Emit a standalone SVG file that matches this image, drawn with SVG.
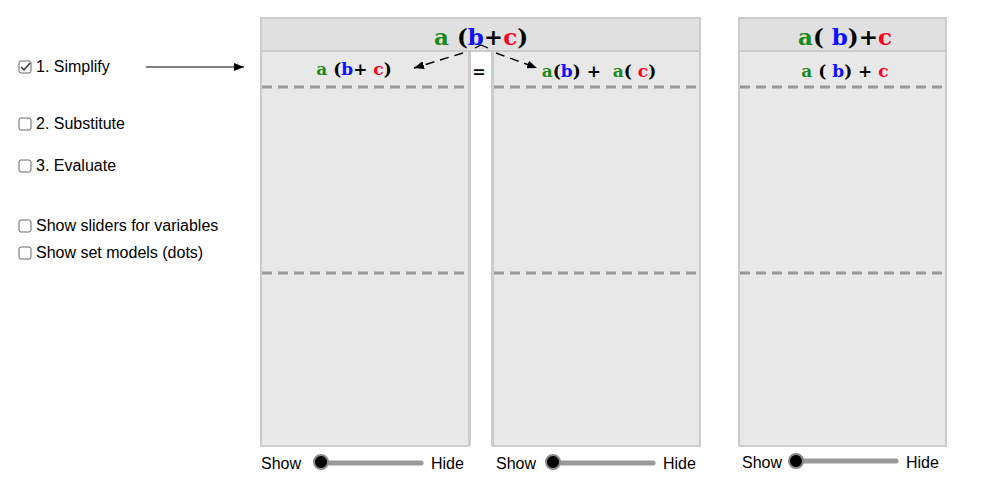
<svg xmlns="http://www.w3.org/2000/svg" width="990" height="490" viewBox="0 0 990 490">
<style>
.p{fill:#e8e8e8;stroke:#cccccc;stroke-width:2}
.h{fill:#e0e0e0;stroke:#cccccc;stroke-width:2}
.d{stroke:#999;stroke-width:3;stroke-dasharray:10,6}
.t{font-family:"Liberation Sans",Arial,sans-serif;font-size:16px;fill:#000}
.m{font-family:"DejaVu Serif",serif;font-weight:bold;white-space:pre}
.g{fill:#1a8a1a}.b{fill:#1010ff}.r{fill:#ff0022}.k{fill:#000}
.cb{fill:#fff;stroke:#666;stroke-width:1}
.tr{stroke:#999;stroke-width:5;stroke-linecap:round}
.kn{fill:#000;stroke:#888;stroke-width:2}
</style>
<defs>
<marker id="a" markerWidth="10" markerHeight="8" refX="10" refY="4" orient="auto" markerUnits="userSpaceOnUse"><path d="M0,0L10,4L0,8z" fill="#000"/></marker>
</defs>
<g id="controls">
<rect class="cb" x="19" y="61" width="12" height="12" rx="2"/><path d="M21,67l3,3l6,-7" fill="none" stroke="#333" stroke-width="1.5"/>
<text class="t" x="36" y="72">1. Simplify</text>
<rect class="cb" x="19" y="118" width="12" height="12" rx="2"/><text class="t" x="36" y="129">2. Substitute</text>
<rect class="cb" x="19" y="160" width="12" height="12" rx="2"/><text class="t" x="36" y="171">3. Evaluate</text>
<rect class="cb" x="19" y="220" width="12" height="12" rx="2"/><text class="t" x="36" y="231">Show sliders for variables</text>
<rect class="cb" x="19" y="247" width="12" height="12" rx="2"/><text class="t" x="36" y="258">Show set models (dots)</text>
</g>
<g id="panel1">
<rect class="p" x="261" y="18" width="208" height="428"/>
<line class="d" x1="262" y1="87" x2="468" y2="87"/><line class="d" x1="262" y1="273" x2="468" y2="273"/>
<text class="m" x="354" y="75" font-size="17" text-anchor="middle"><tspan class="g">a</tspan> <tspan class="k">(</tspan><tspan class="b">b</tspan><tspan class="k">+ </tspan><tspan class="r">c</tspan><tspan class="k">)</tspan></text>
</g>
<g id="panel2">
<rect class="p" x="493" y="18" width="207" height="428"/>
<line class="d" x1="494" y1="87" x2="699" y2="87"/><line class="d" x1="494" y1="273" x2="699" y2="273"/>
<text class="m" x="599" y="77" font-size="17" text-anchor="middle"><tspan class="g">a</tspan><tspan class="k">(</tspan><tspan class="b">b</tspan><tspan class="k">) +  </tspan><tspan class="g">a</tspan><tspan class="k">( </tspan><tspan class="r">c</tspan><tspan class="k">)</tspan></text>
</g>
<g id="header1">
<rect class="h" x="261" y="18" width="439" height="33"/>
<rect x="470" y="52" width="22" height="400" fill="#fff"/>
<line x1="470" y1="52" x2="470" y2="446" stroke="#ccc" stroke-width="2"/>
<line x1="492" y1="52" x2="492" y2="446" stroke="#ccc" stroke-width="2"/>
<text class="m" x="481" y="45" font-size="23" text-anchor="middle"><tspan class="g">a</tspan> <tspan class="k">(</tspan><tspan class="b">b</tspan><tspan class="k">+</tspan><tspan class="r">c</tspan><tspan class="k">)</tspan></text>
<text class="m" x="479" y="77" font-size="16" text-anchor="middle">=</text>
</g>
<g id="panel3">
<rect class="p" x="739" y="18" width="207" height="428"/>
<rect class="h" x="739" y="18" width="207" height="33"/>
<line class="d" x1="740" y1="87" x2="945" y2="87"/><line class="d" x1="740" y1="273" x2="945" y2="273"/>
<text class="m" x="845" y="45" font-size="23" text-anchor="middle"><tspan class="g">a</tspan><tspan class="k">( </tspan><tspan class="b">b</tspan><tspan class="k">)+</tspan><tspan class="r">c</tspan></text>
<text class="m" x="845" y="77" font-size="17" text-anchor="middle"><tspan class="g">a</tspan> <tspan class="k">( </tspan><tspan class="b">b</tspan><tspan class="k">) + </tspan><tspan class="r">c</tspan></text>
</g>
<g id="sliders">
<text class="t" x="261" y="469">Show</text><line class="tr" x1="321" y1="463" x2="421" y2="463"/><circle class="kn" cx="321" cy="462" r="7"/><text class="t" x="431" y="469">Hide</text>
<text class="t" x="496" y="469">Show</text><line class="tr" x1="553" y1="463" x2="653" y2="463"/><circle class="kn" cx="553" cy="462" r="7"/><text class="t" x="663" y="469">Hide</text>
<text class="t" x="742" y="468">Show</text><line class="tr" x1="796" y1="461" x2="896" y2="461"/><circle class="kn" cx="796" cy="461" r="7"/><text class="t" x="906" y="468">Hide</text>
</g>
<g id="connectors">
<line x1="146" y1="67" x2="244" y2="67" stroke="#000" stroke-width="1.2" marker-end="url(#a)"/>
<path d="M475,48L481,45L488,48" fill="none" stroke="#000" stroke-width="1.2"/>
<line x1="463" y1="53" x2="414" y2="68" stroke="#000" stroke-width="1.5" stroke-dasharray="9,6" marker-end="url(#a)"/>
<line x1="496" y1="53" x2="537" y2="68" stroke="#000" stroke-width="1.5" stroke-dasharray="9,6" marker-end="url(#a)"/>
</g>
</svg>
